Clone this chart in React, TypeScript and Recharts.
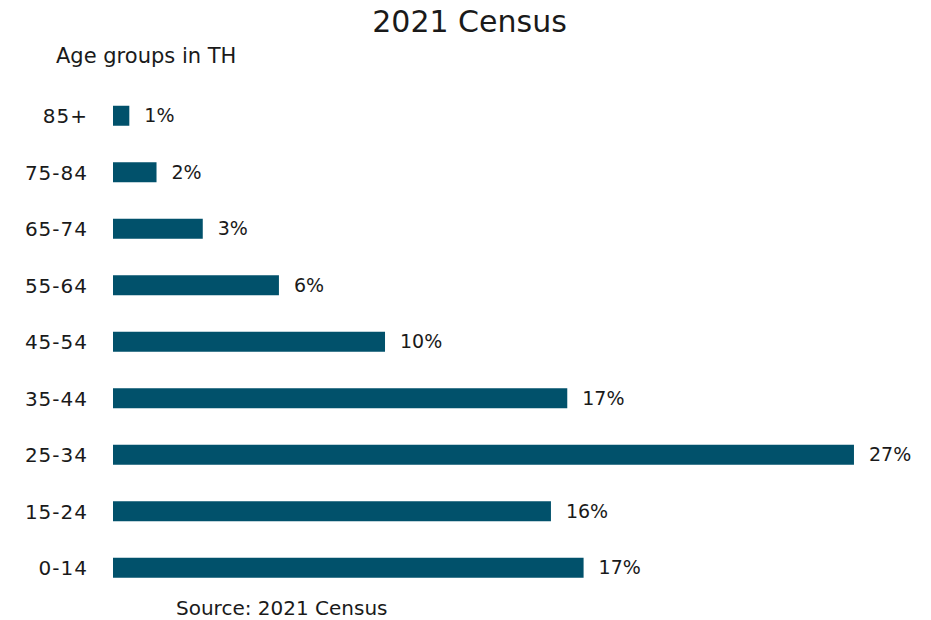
import React from 'react';
import { BarChart, Bar, XAxis, YAxis, LabelList } from 'recharts';

const categories = ['85+', '75-84', '65-74', '55-64', '45-54', '35-44', '25-34', '15-24', '0-14'];
const shares = [0.6, 1.6, 3.3, 6.1, 10.0, 16.7, 27.24, 16.1, 17.3];
const shareLabels = ['1%', '2%', '3%', '6%', '10%', '17%', '27%', '16%', '17%'];

const data = categories.map((c, i) => ({ group: c, share: shares[i], label: shareLabels[i] }));

const FONT = '"DejaVu Sans", sans-serif';
const BAR = '#01516b';
const TEXT = '#1a1a1a';

export default function App() {
  return (
    <div style={{ position: 'absolute', left: 0, top: 0, width: 931, height: 620, background: '#fff', fontFamily: FONT, overflow: 'hidden' }}>
      <div style={{ position: 'absolute', left: 0, width: 939, top: 4, textAlign: 'center', fontSize: 30, color: TEXT, lineHeight: '36px', whiteSpace: 'nowrap' }}>2021 Census</div>
      <div style={{ position: 'absolute', left: 56, top: 44, fontSize: 21, color: TEXT, lineHeight: '25px', whiteSpace: 'nowrap' }}>Age groups in TH</div>
      <div style={{ position: 'absolute', left: 176, top: 596, fontSize: 20, color: TEXT, lineHeight: '24px', whiteSpace: 'nowrap' }}>Source: 2021 Census</div>
      <BarChart
        width={931}
        height={620}
        data={data}
        layout="vertical"
        margin={{ top: 87.75, right: 18, bottom: 23.75, left: 33 }}
      >
        <XAxis type="number" hide domain={[0, 29.41]} />
        <YAxis
          type="category"
          dataKey="group"
          width={80}
          axisLine={false}
          tickLine={false}
          tickMargin={19}
          tick={{ fill: TEXT, fontSize: 20, fontFamily: FONT, letterSpacing: 1 }}
        />
        <Bar dataKey="share" fill={BAR} barSize={20} isAnimationActive={false}>
          <LabelList dataKey="label" position="right" offset={15} fill={TEXT} fontSize={19} fontFamily={FONT} />
        </Bar>
      </BarChart>
    </div>
  );
}
